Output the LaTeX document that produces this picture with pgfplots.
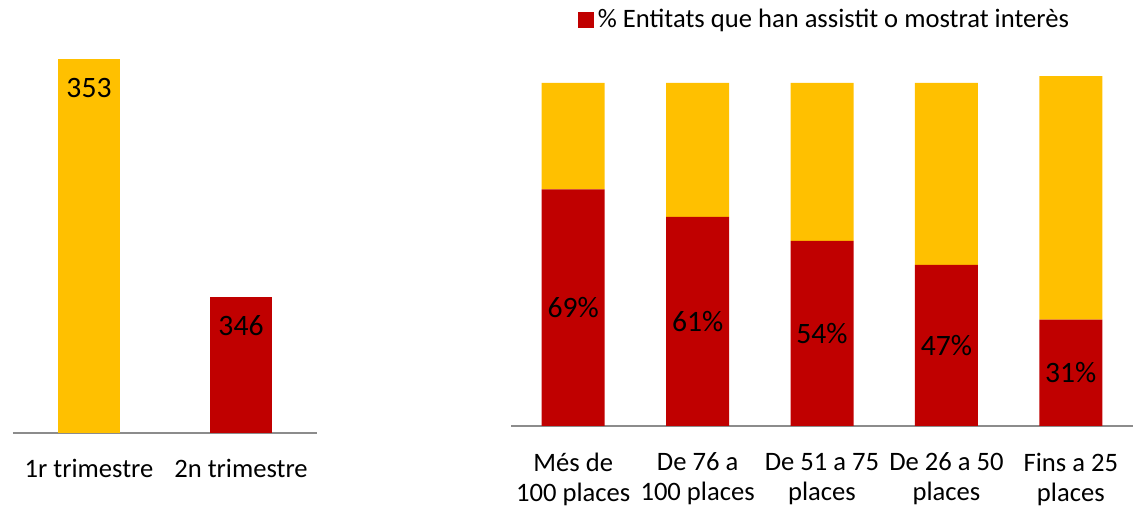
\documentclass[border=0pt]{standalone}
\usepackage{fontspec}
\setmainfont{Carlito}
\usepackage{pgfplots}
\pgfplotsset{compat=1.18}
\definecolor{myorange}{HTML}{FFC000}
\definecolor{myred}{HTML}{C00000}
\definecolor{axgray}{HTML}{8C8C8C}
\begin{document}
\begin{tikzpicture}[x=1pt,y=1pt]
\useasboundingbox (0,0) rectangle (566.5,253);
% left chart
\begin{axis}[
  at={(6.5pt,36.5pt)}, anchor=south west,
  scale only axis, width=152pt, height=204pt,
  xmin=0.5, xmax=2.5, ymin=342, ymax=354,
  axis x line=bottom, axis y line=none,
  x axis line style={axgray, line width=0.9pt, -},
  xtick={1,2}, xticklabels={1r trimestre, 2n trimestre},
  major tick length=0pt, ytick=\empty,
  xticklabel style={anchor=center, yshift=-17.5pt, font=\fontsize{13.3}{15}\selectfont},
  ybar, bar width=31pt, bar shift=0pt,
  point meta=explicit symbolic,
  nodes near coords,
  every node near coord/.append style={anchor=center, yshift=-14.5pt, font=\fontsize{14.8}{17}\selectfont, black},
  clip=false,
]
\addplot[fill=myorange, draw=none] coordinates {(1,353) [353]};
\addplot[fill=myred, draw=none] coordinates {(2,346) [346]};
\end{axis}
% right chart
\begin{axis}[
  at={(255.5pt,40pt)}, anchor=south west,
  scale only axis, width=311pt, height=188.65pt,
  xmin=0.5, xmax=5.5, ymin=0, ymax=110,
  axis x line=bottom, axis y line=none,
  x axis line style={axgray, line width=0.9pt, -},
  xtick={1,2,3,4,5},
  xticklabels={{Més de\\100 places},{De 76 a\\100 places},{De 51 a 75\\places},{De 26 a 50\\places},{Fins a 25\\places}},
  major tick length=0pt, ytick=\empty,
  xticklabel style={anchor=center, align=center, yshift=-26.5pt, font=\fontsize{13.3}{15}\selectfont},
  ybar stacked, bar width=31.5pt,
  legend style={at={(0.5056,1.077)}, anchor=center, draw=none, fill=none, font=\fontsize{13.3}{15}\selectfont, inner sep=0pt},
  clip=false,
]
\addplot[fill=myred, draw=none,
  legend image code/.code={\fill[myred] (-1pt,-4pt) rectangle (7pt,4pt);}
] coordinates {(1,69) (2,61) (3,54) (4,47) (5,31)};
\addlegendentry{\% Entitats que han assistit o mostrat interès}
\addplot[fill=myorange, draw=none] coordinates {(1,31) (2,39) (3,46) (4,53) (5,71)};
\end{axis}
% labels of the red segments
\begin{axis}[
  at={(255.5pt,40pt)}, anchor=south west,
  scale only axis, width=311pt, height=188.65pt,
  xmin=0.5, xmax=5.5, ymin=0, ymax=110,
  axis lines=none, clip=false,
]
\addplot[only marks, mark=none, point meta=explicit symbolic,
  nodes near coords,
  every node near coord/.style={anchor=center, font=\fontsize{14.8}{17}\selectfont, black}]
  coordinates {(1,34.5) [69\%] (2,30.5) [61\%] (3,27) [54\%] (4,23.5) [47\%] (5,15.5) [31\%]};
\end{axis}
\end{tikzpicture}
\end{document}
